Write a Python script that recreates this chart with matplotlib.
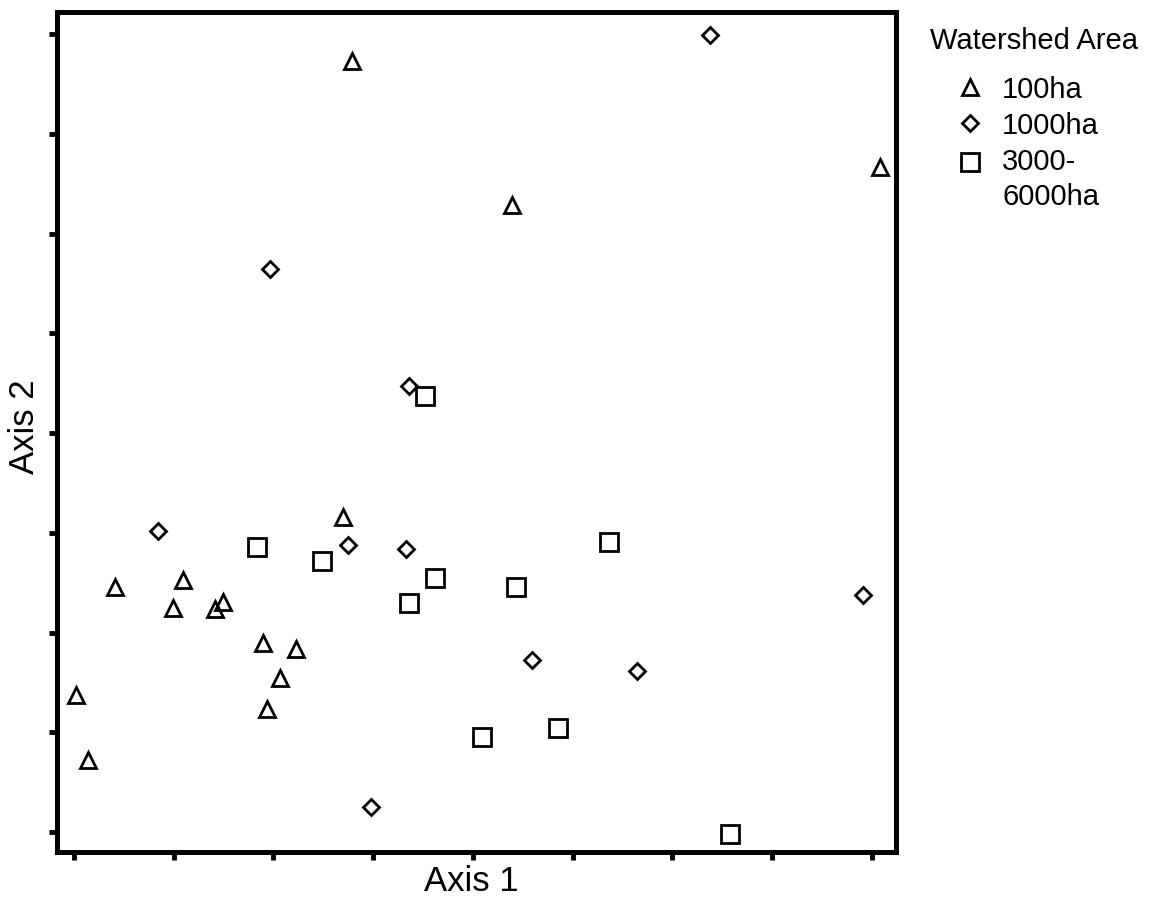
import matplotlib.pyplot as plt
from matplotlib.legend_handler import HandlerLine2D

# ordination scores (tick units)
tri_x = [2.79, 8.08, 4.39, 0.41, 1.09, 0.99, 1.41, 1.49, 2.70, 1.90, 2.23, 2.07, 1.94, 0.02, 0.14]
tri_y = [7.73, 6.67, 6.29, 2.46, 2.53, 2.25, 2.24, 2.31, 3.16, 1.90, 1.84, 1.54, 1.23, 1.37, 0.72]
dia_x = [6.38, 1.97, 3.36, 0.84, 2.75, 3.33, 7.91, 4.59, 5.64, 2.98]
dia_y = [7.99, 5.65, 4.47, 3.02, 2.88, 2.84, 2.38, 1.72, 1.61, 0.25]
sq_x = [3.52, 1.84, 2.49, 3.62, 3.36, 5.36, 4.43, 4.09, 4.85, 6.58]
sq_y = [4.37, 2.86, 2.72, 2.55, 2.30, 2.91, 2.46, 0.95, 1.04, -0.02]
labels = ['100ha', '1000ha', '3000-\n6000ha']


class RaisedHandler(HandlerLine2D):
    # puts the marker next to the first line of a two-line label
    def __init__(self, dy, **kw):
        super().__init__(**kw)
        self.dy = dy

    def create_artists(self, legend, orig_handle, xdescent, ydescent, width, height, fontsize, trans):
        return super().create_artists(legend, orig_handle, xdescent, ydescent, width,
                                      height + 2 * self.dy, fontsize, trans)


plt.rcParams['font.family'] = ['Liberation Sans', 'DejaVu Sans']

fig = plt.figure(figsize=(11.75, 9.03), dpi=100)
ax = fig.add_axes([0.0485, 0.0554, 0.714, 0.930])

ax.plot(tri_x, tri_y, '^', ms=11, mfc='none', mec='black', mew=2, label=labels[0])
ax.plot(dia_x, dia_y, 'D', ms=8.5, mfc='none', mec='black', mew=2, label=labels[1])
sq, = ax.plot(sq_x, sq_y, 's', ms=13, mfc='none', mec='black', mew=2, label=labels[2])

ax.set_xlim(-0.17, 8.24)
ax.set_ylim(-0.20, 8.22)
ax.set_xticks(range(0, 9))
ax.set_yticks(range(0, 9))
ax.set_xticklabels([])
ax.set_yticklabels([])
ax.tick_params(axis='both', direction='out', length=6, width=3.5)
for s in ax.spines.values():
    s.set_linewidth(3.6)

fig.text(471 / 1175, 1 - 882 / 903, 'Axis 1', fontsize=25, ha='center', va='center')
fig.text(25 / 1175, 1 - 427 / 903, 'Axis 2', fontsize=25, ha='center', va='center', rotation=90)

# legend title placed on its own, entries below it
fig.text(930 / 1175, 1 - 41 / 903, 'Watershed Area', fontsize=21, ha='left', va='center')
leg = ax.legend(loc='upper left', bbox_to_anchor=(955 / 1175, 1 - 76 / 903),
                bbox_transform=fig.transFigure, frameon=False, fontsize=21,
                markerscale=1.0, handlelength=1.0, handletextpad=0.62, labelspacing=0.28,
                borderaxespad=0, borderpad=0, handler_map={sq: RaisedHandler(12.5)})
for t in leg.get_texts():
    t.set_linespacing(1.3)

plt.savefig('out.png', dpi=100)
